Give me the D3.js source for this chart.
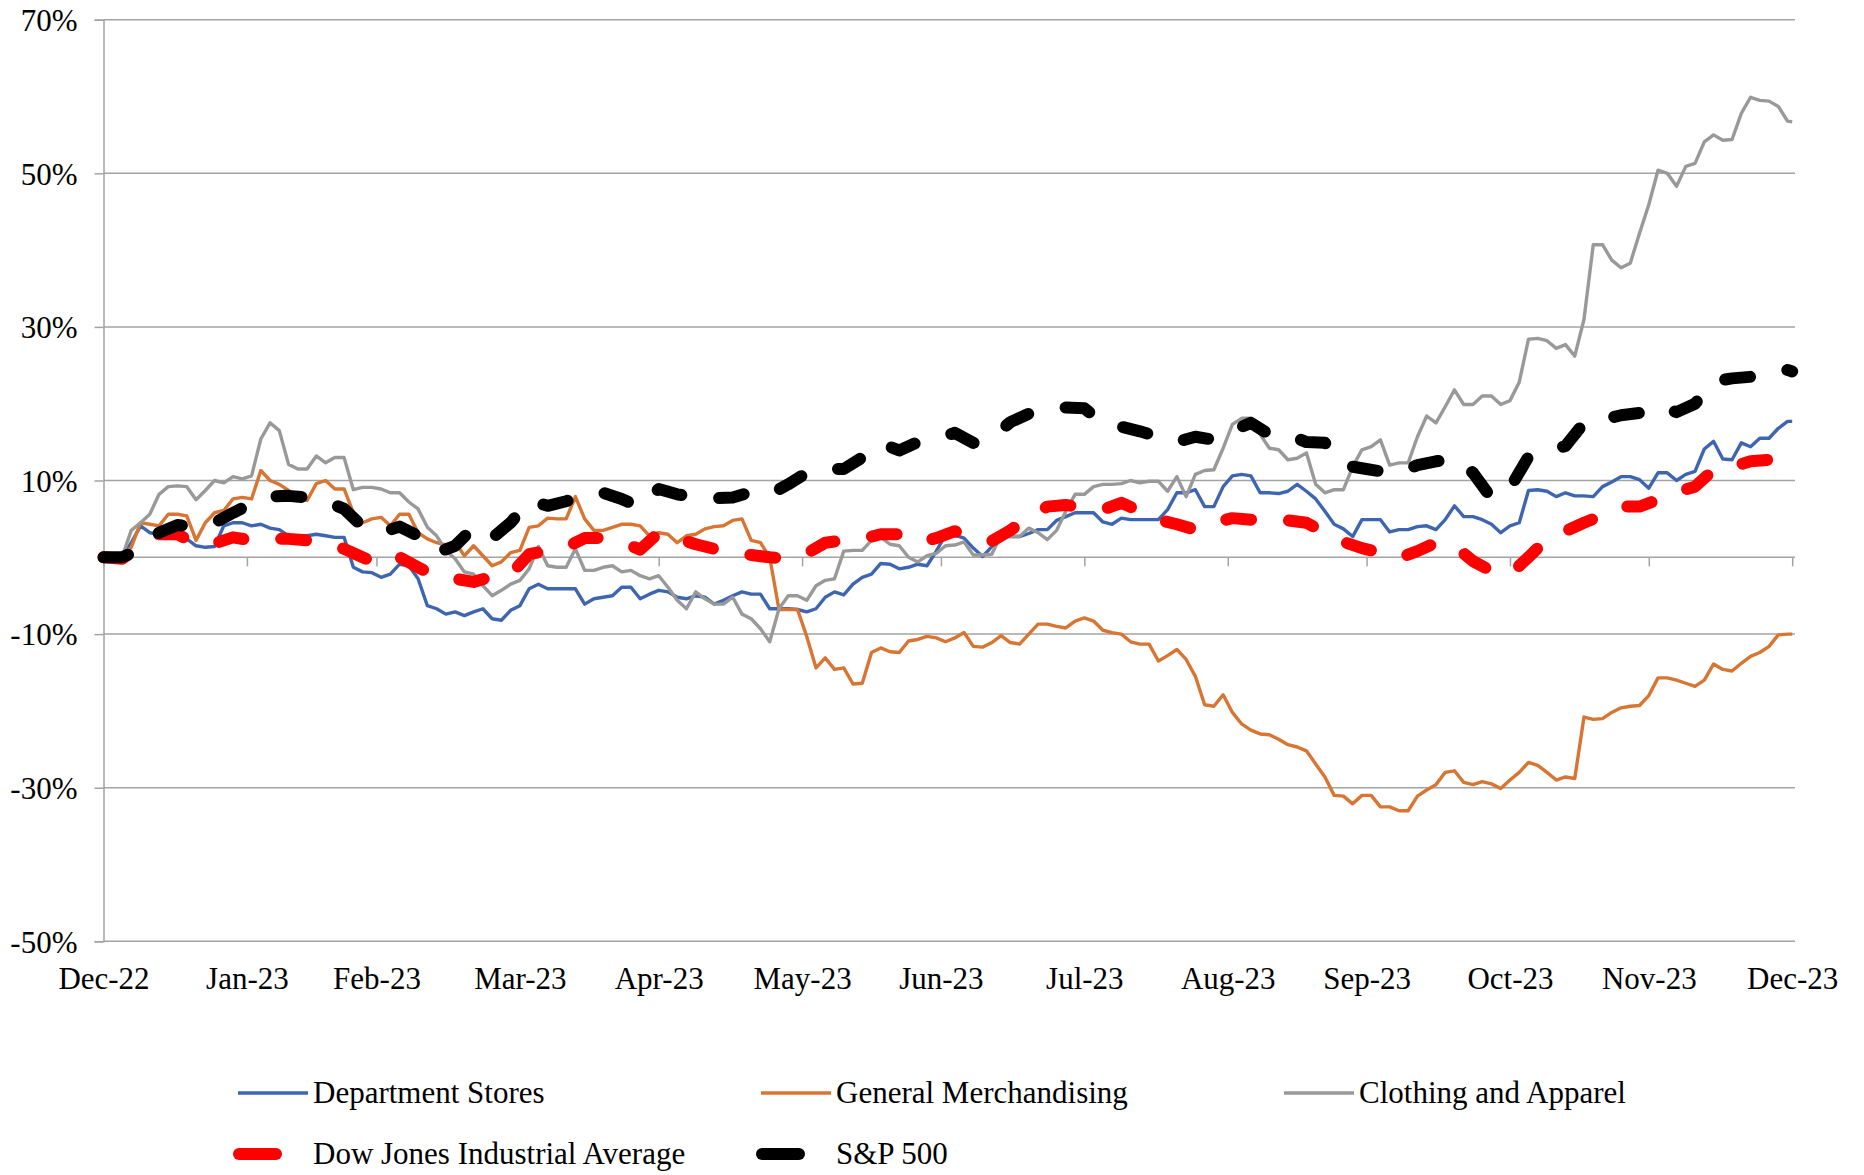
<!DOCTYPE html>
<html lang="en">
<head>
<meta charset="UTF-8">
<title>Retail sub-sectors vs. market indices, 2023</title>
<style>
  body { margin: 0; background: #fff; }
  svg text { font-family: 'Liberation Serif', 'Times New Roman', serif; fill: #000; }
</style>
</head>
<body>
<svg id="chart" width="1864" height="1175"></svg>
<script src="https://cdnjs.cloudflare.com/ajax/libs/d3/7.8.5/d3.min.js"></script>
<script>
// sector series are read every 2 days, the two indices every 4 days,
// both starting 31 Dec 2022 and closing 31 Dec 2023
const startDate = '2022-12-31';
const endDate = '2023-12-31';
const sectorStepDays = 2;
const indexStepDays = 4;

// cumulative return, %
const deptStores = [
  0, 0, 0, 1.9, 4.1, 3.2, 3, 2.8, 2.8, 2.4,
  1.5, 1.3, 1.4, 4.1, 4.5, 4.5, 4.1, 4.3, 3.8, 3.6,
  2.8, 2.8, 2.8, 3, 2.8, 2.6, 2.6, -1.3, -1.9, -2,
  -2.6, -2.2, -0.9, -1.1, -2.8, -6.3, -6.7, -7.4, -7.1, -7.6,
  -7.1, -6.7, -8, -8.2, -6.9, -6.3, -4.1, -3.5, -4.1, -4.1,
  -4.1, -4.1, -6.1, -5.4, -5.2, -5, -3.9, -3.9, -5.4, -4.8,
  -4.3, -4.5, -5.2, -5.4, -5, -5.2, -6.1, -5.6, -5, -4.5,
  -4.8, -4.8, -6.7, -6.7, -6.7, -6.8, -7.1, -6.7, -5.2, -4.5,
  -4.9, -3.5, -2.6, -2.2, -0.8, -0.9, -1.5, -1.3, -0.9, -1.1,
  0.8, 2.9, 2.9, 2.5, 1.2, 0.1, 1.4, 2.9, 2.7, 2.7,
  3.1, 3.6, 3.6, 4.8, 5.3, 5.8, 5.8, 5.8, 4.6, 4.3,
  5.1, 4.9, 4.9, 4.9, 4.9, 6.2, 8.4, 8.4, 8.8, 6.6,
  6.6, 9.2, 10.6, 10.8, 10.6, 8.4, 8.4, 8.3, 8.6, 9.5,
  8.6, 7.6, 6, 4.3, 3.7, 2.7, 4.9, 4.9, 4.9, 3.3,
  3.6, 3.6, 4, 4.1, 3.6, 4.9, 6.7, 5.3, 5.3, 4.9,
  4.3, 3.2, 4.1, 4.5, 8.7, 8.8, 8.6, 7.9, 8.4, 8,
  8, 7.9, 9.2, 9.8, 10.5, 10.5, 10.1, 9, 11, 11,
  10, 10.8, 11.2, 14.1, 15.1, 12.8, 12.7, 14.9, 14.4, 15.5,
  15.5, 16.8, 17.7, 17.7
];

const generalMerch = [
  0, 0, 0, 1.3, 4.5, 4.3, 4.1, 5.6, 5.6, 5.4,
  2.2, 4.5, 5.8, 6.1, 7.6, 7.8, 7.6, 11.3, 10, 9.5,
  8.7, 7.8, 7.4, 9.6, 10, 8.9, 8.9, 5.8, 4.5, 5,
  5.2, 4.1, 5.6, 5.6, 3.2, 2.4, 1.9, 1.6, 2, 0.2,
  1.5, 0.2, -1.1, -0.6, 0.6, 0.9, 3.9, 4.1, 5.1, 5,
  5, 7.9, 5, 3.5, 3.5, 3.9, 4.3, 4.3, 4.1, 2.8,
  3.2, 3, 1.9, 2.8, 3, 3.7, 4, 4.1, 4.8, 5,
  2.2, 1.9, 0, -6.8, -6.8, -6.8, -10.3, -14.4, -13.1, -14.6,
  -14.4, -16.5, -16.4, -12.4, -11.8, -12.3, -12.4, -10.9, -10.7, -10.3,
  -10.5, -11, -10.5, -9.8, -11.6, -11.7, -11.1, -10.2, -11.1, -11.3,
  -10, -8.7, -8.7, -9, -9.2, -8.3, -7.9, -8.3, -9.5, -9.8,
  -10, -11, -11.3, -11.3, -13.5, -12.8, -12, -13.3, -15.5, -19.2,
  -19.4, -17.9, -20.2, -21.7, -22.5, -23, -23.1, -23.7, -24.4, -24.7,
  -25.2, -26.9, -28.6, -31, -31.1, -32.1, -31, -31, -32.5, -32.5,
  -33, -33, -31.1, -30.3, -29.6, -28, -27.8, -29.3, -29.6, -29.2,
  -29.5, -30.1, -29, -28, -26.7, -27.1, -28, -29, -28.6, -28.8,
  -20.8, -21.1, -21, -20.2, -19.6, -19.4, -19.3, -18, -15.7, -15.7,
  -16, -16.4, -16.8, -16, -13.9, -14.6, -14.8, -13.8, -12.9, -12.4,
  -11.6, -10.1, -10, -10
];

const clothing = [
  0, 0, 0, 3.5, 4.5, 5.6, 8.2, 9.2, 9.3, 9.2,
  7.5, 8.7, 10, 9.7, 10.5, 10.2, 10.6, 15.4, 17.5, 16.5,
  12.1, 11.5, 11.5, 13.2, 12.3, 13, 13, 8.8, 9.1, 9.1,
  8.9, 8.4, 8.4, 7.2, 6.3, 3.9, 2.8, 0.9, -0.2, -1.9,
  -2.2, -3.7, -5, -4.3, -3.5, -3, -1.5, 1.4, -1.1, -1.3,
  -1.3, 1.1, -1.7, -1.7, -1.3, -1.1, -1.9, -1.7, -2.4, -2.8,
  -2.4, -3.9, -5.6, -6.7, -4.5, -5.4, -6.1, -6.1, -5.2, -7.4,
  -8, -9.3, -11, -6.7, -5, -5, -5.6, -3.7, -3, -2.8,
  0.8, 0.9, 0.9, 2.2, 2.6, 1.7, 1.5, 0, -0.6, 0.2,
  0.5, 1.5, 1.6, 2, 0.3, 0.3, 0.4, 2.9, 2.7, 2.7,
  3.8, 3.2, 2.3, 3.5, 6, 8.2, 8.2, 9.2, 9.5, 9.5,
  9.6, 10, 9.7, 9.9, 9.9, 8.6, 10.5, 7.9, 10.8, 11.3,
  11.4, 14.2, 17.3, 18.1, 18.1, 16, 14.2, 14, 12.7, 12.9,
  13.6, 9.5, 8.4, 8.8, 8.8, 11.8, 14, 14.4, 15.3, 12,
  12.3, 12.3, 15.7, 18.4, 17.5, 19.6, 21.8, 19.9, 19.9, 21,
  21, 19.9, 20.4, 22.8, 28.4, 28.5, 28.2, 27.2, 27.7, 26.2,
  31, 40.7, 40.7, 38.7, 37.7, 38.3, 42.2, 45.9, 50.4, 50,
  48.3, 50.9, 51.3, 54.1, 55, 54.3, 54.4, 57.8, 59.9, 59.5,
  59.4, 58.7, 56.8, 56.7
];

const dowJones = [
  0, -0.2, 1.5, 3, 3, 1.7, 1.8, 2.6,
  2.2, 2.4, 2.4, 2.2, 1.8, 1.1, 0,
  -1, 0, -1.3, -2.5, -2.8, -3.2, -2.5, -2.2,
  0.4, 0.9, 1.3, 2.5, 2.5, 2, 1, 3.2,
  2.5, 1.7, 1.1, 0.6, 0.3, 0, -0.2,
  0.5, 1.9, 2.2, 2.4, 3, 3, 1.9, 2.5,
  3.4, 2.5, 2.1, 3.5, 5.3, 6.6, 6.8, 6.5,
  6.2, 7.1, 6, 4.9, 4.3, 3.6, 4.5,
  5.1, 4.9, 4.8, 4.8, 4.5, 3.2, 2, 1.2,
  0.6, -0.1, 0.8, 1.9, 1.5, -0.5, -1.8, -2.2,
  0, 2.4, 3.4, 4.5, 5.5, 6.6, 6.6,
  7.5, 8.5, 9.2, 11.4, 11.8, 12.5, 12.7, 13.5,
  13.8
];

const sp500 = [
  0, 0, 1, 3.2, 4.2, 4, 4.5, 5.8,
  7, 7.9, 8, 7.8, 7.3, 6.3, 4,
  3.2, 4, 2.8, 0.6, 1.5, 3.9, 2.5, 4.5,
  7.4, 6.7, 7.3, 8, 8.4, 7.6, 6.5, 8.9,
  8.2, 7.8, 7.7, 7.8, 8.5, 8.2, 9.5,
  11, 11.5, 11.5, 13, 14.9, 13.9, 15, 15.5,
  16.2, 14.9, 15.5, 17.6, 18.7, 19, 19.5, 19.4,
  17.5, 17, 16.4, 15.7, 15, 15.7, 15.3,
  16.5, 17.5, 16, 16, 15, 14.9, 12, 11.6,
  11.2, 11, 12, 12.5, 12.8, 11, 7.7, 9,
  13.1, 13.8, 14.5, 17.5, 17.9, 18.5, 18.8,
  19.7, 18.9, 20, 22.9, 23.3, 23.5, 23.8, 24.4,
  24.2
];

const yTicks = [70, 50, 30, 10, -10, -30, -50];
const monthTicks = ['2022-12-31','2023-01-31','2023-02-28','2023-03-31','2023-04-30','2023-05-31',
  '2023-06-30','2023-07-31','2023-08-31','2023-09-30','2023-10-31','2023-11-30','2023-12-31'];

const parse = d3.timeParse('%Y-%m-%d');
const t0 = parse(startDate), t1 = parse(endDate);

// observation dates: regular steps, last one on the closing date
function observationDates(step, count) {
  return d3.range(count).map(k => k === count - 1 ? t1 : d3.timeDay.offset(t0, k * step));
}
const sectorDates = observationDates(sectorStepDays, deptStores.length);
const indexDates = observationDates(indexStepDays, sp500.length);

const series = [
  { name: 'Department Stores', values: deptStores, dates: sectorDates, color: '#3e66b0', dashed: false },
  { name: 'General Merchandising', values: generalMerch, dates: sectorDates, color: '#d87532', dashed: false },
  { name: 'Clothing and Apparel', values: clothing, dates: sectorDates, color: '#999999', dashed: false },
  { name: 'Dow Jones Industrial Average', values: dowJones, dates: indexDates, color: '#ff0000', dashed: true },
  { name: 'S&P 500', values: sp500, dates: indexDates, color: '#000000', dashed: true }
];

const svg = d3.select('#chart');
const plotLeft = 103.5, plotRight = 1795, plotTop = 19.7, plotBottom = 941.3;
const fontSize = '31px';

const x = d3.scaleTime().domain([t0, t1]).range([plotLeft, 1792.2]);
const y = d3.scaleLinear().domain([-50, 70]).range([plotBottom, plotTop]);

const gridColor = '#a3a3a3';

// horizontal gridlines
svg.append('g')
  .selectAll('line')
  .data(yTicks)
  .join('line')
  .attr('x1', plotLeft).attr('x2', plotRight)
  .attr('y1', d => y(d)).attr('y2', d => y(d))
  .attr('stroke', gridColor).attr('stroke-width', 1.5);

// y axis
const yAxis = svg.append('g')
  .attr('transform', `translate(${plotLeft},0)`)
  .call(d3.axisLeft(y).tickValues(yTicks).tickFormat(d => d + '%').tickSize(9).tickPadding(17));
yAxis.select('.domain').attr('stroke', gridColor).attr('stroke-width', 1.5);
yAxis.selectAll('.tick line').attr('stroke', gridColor).attr('stroke-width', 1.5);
yAxis.selectAll('text').style('font-size', fontSize).attr('dy', '0.35em');

// zero axis with month ticks
const tickDates = monthTicks.map(parse);
const xAxis = svg.append('g')
  .attr('transform', `translate(0,${y(0)})`)
  .call(d3.axisBottom(x).tickValues(tickDates).tickSize(9).tickFormat(''));
xAxis.select('.domain').attr('d', `M${plotLeft},0H${plotRight}`).attr('stroke', gridColor).attr('stroke-width', 1.5);
xAxis.selectAll('.tick line').attr('stroke', gridColor).attr('stroke-width', 1.5);

// month labels along the bottom
const xLabels = svg.append('g')
  .attr('transform', `translate(0,${plotBottom})`)
  .call(d3.axisBottom(x).tickValues(tickDates).tickSize(0).tickFormat(d3.timeFormat('%b-%y')));
xLabels.select('.domain').remove();
xLabels.selectAll('text').style('font-size', fontSize).attr('y', 48).attr('dy', 0);

// series lines
series.forEach(s => {
  const line = d3.line()
    .x((d, i) => x(s.dates[i]))
    .y(d => y(d));
  const path = svg.append('path')
    .datum(s.values)
    .attr('d', line)
    .attr('fill', 'none')
    .attr('stroke', s.color)
    .attr('stroke-linejoin', 'round');
  if (s.dashed) {
    path.attr('stroke-width', 12)
      .attr('stroke-linecap', 'round')
      .attr('stroke-dasharray', '25 38');
  } else {
    path.attr('stroke-width', 3.4);
  }
});

// legend
const legendPos = [
  { x: 238, y: 1093 }, { x: 761, y: 1093 }, { x: 1284, y: 1093 },
  { x: 238, y: 1154 }, { x: 761, y: 1154 }
];
series.forEach((s, i) => {
  const p = legendPos[i];
  const g = svg.append('g').attr('transform', `translate(${p.x},${p.y})`);
  if (s.dashed) {
    g.append('line').attr('x1', 1).attr('x2', 38).attr('y1', 0).attr('y2', 0)
      .attr('stroke', s.color).attr('stroke-width', 12).attr('stroke-linecap', 'round');
  } else {
    g.append('line').attr('x1', 0).attr('x2', 70).attr('y1', 0).attr('y2', 0)
      .attr('stroke', s.color).attr('stroke-width', 3.5);
  }
  g.append('text')
    .attr('x', 75).attr('y', 0).attr('dy', '0.32em')
    .style('font-size', fontSize)
    .text(s.name);
});
</script>
</body>
</html>
